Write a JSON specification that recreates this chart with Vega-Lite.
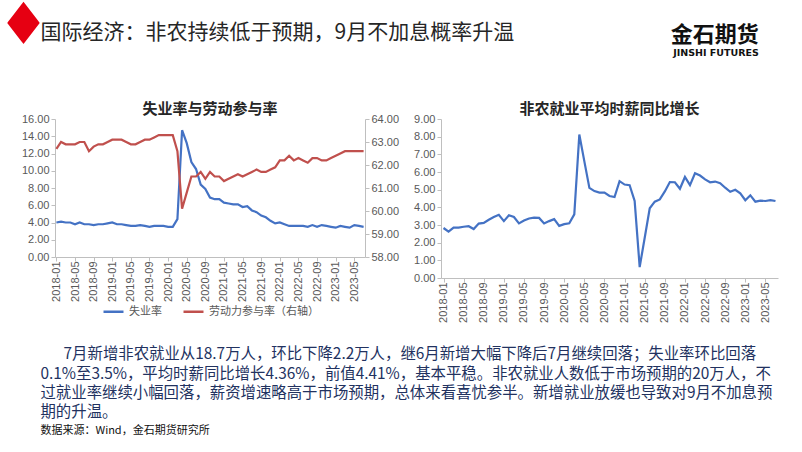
{
  "$schema": "https://vega.github.io/schema/vega-lite/v6.json",
  "background": "white",
  "padding": {"left": -3, "top": -2, "right": 0, "bottom": 0},
  "datasets": {
    "d": [
      {"m":"2018-01","u":4.0,"p":62.7,"w":2.83},{"m":"2018-02","u":4.1,"p":63.0,"w":2.62},{"m":"2018-03","u":4.0,"p":62.9,"w":2.85},{"m":"2018-04","u":4.0,"p":62.9,"w":2.85},
      {"m":"2018-05","u":3.8,"p":62.9,"w":2.9},{"m":"2018-06","u":4.0,"p":63.0,"w":2.93},{"m":"2018-07","u":3.8,"p":63.0,"w":2.77},{"m":"2018-08","u":3.8,"p":62.6,"w":3.08},
      {"m":"2018-09","u":3.7,"p":62.8,"w":3.12},{"m":"2018-10","u":3.8,"p":62.9,"w":3.3},{"m":"2018-11","u":3.8,"p":62.9,"w":3.45},{"m":"2018-12","u":3.9,"p":63.0,"w":3.58},
      {"m":"2019-01","u":4.0,"p":63.1,"w":3.22},{"m":"2019-02","u":3.8,"p":63.1,"w":3.55},{"m":"2019-03","u":3.8,"p":63.1,"w":3.45},{"m":"2019-04","u":3.7,"p":63.0,"w":3.09},
      {"m":"2019-05","u":3.6,"p":62.9,"w":3.25},{"m":"2019-06","u":3.6,"p":62.9,"w":3.37},{"m":"2019-07","u":3.7,"p":63.0,"w":3.42},{"m":"2019-08","u":3.6,"p":63.1,"w":3.4},
      {"m":"2019-09","u":3.5,"p":63.1,"w":3.09},{"m":"2019-10","u":3.6,"p":63.2,"w":3.22},{"m":"2019-11","u":3.6,"p":63.3,"w":3.33},{"m":"2019-12","u":3.6,"p":63.3,"w":2.95},
      {"m":"2020-01","u":3.5,"p":63.3,"w":3.05},{"m":"2020-02","u":3.5,"p":63.3,"w":3.1},{"m":"2020-03","u":4.4,"p":62.6,"w":3.6},{"m":"2020-04","u":14.7,"p":60.1,"w":8.12},
      {"m":"2020-05","u":13.2,"p":60.8,"w":6.6},{"m":"2020-06","u":11.0,"p":61.5,"w":5.1},{"m":"2020-07","u":10.2,"p":61.5,"w":4.92},{"m":"2020-08","u":8.4,"p":61.7,"w":4.83},
      {"m":"2020-09","u":7.9,"p":61.4,"w":4.83},{"m":"2020-10","u":6.9,"p":61.7,"w":4.64},{"m":"2020-11","u":6.7,"p":61.5,"w":4.58},{"m":"2020-12","u":6.7,"p":61.5,"w":5.48},
      {"m":"2021-01","u":6.3,"p":61.3,"w":5.29},{"m":"2021-02","u":6.2,"p":61.4,"w":5.25},{"m":"2021-03","u":6.1,"p":61.5,"w":4.36},{"m":"2021-04","u":6.1,"p":61.6,"w":0.62},
      {"m":"2021-05","u":5.8,"p":61.5,"w":2.28},{"m":"2021-06","u":5.9,"p":61.6,"w":3.95},{"m":"2021-07","u":5.4,"p":61.7,"w":4.32},{"m":"2021-08","u":5.2,"p":61.8,"w":4.45},
      {"m":"2021-09","u":4.8,"p":61.7,"w":4.9},{"m":"2021-10","u":4.6,"p":61.7,"w":5.43},{"m":"2021-11","u":4.2,"p":61.8,"w":5.42},{"m":"2021-12","u":3.9,"p":61.9,"w":5.05},
      {"m":"2022-01","u":4.0,"p":62.2,"w":5.72},{"m":"2022-02","u":3.8,"p":62.2,"w":5.26},{"m":"2022-03","u":3.6,"p":62.4,"w":5.93},{"m":"2022-04","u":3.6,"p":62.2,"w":5.8},
      {"m":"2022-05","u":3.6,"p":62.3,"w":5.58},{"m":"2022-06","u":3.6,"p":62.2,"w":5.42},{"m":"2022-07","u":3.5,"p":62.1,"w":5.46},{"m":"2022-08","u":3.7,"p":62.3,"w":5.37},
      {"m":"2022-09","u":3.5,"p":62.3,"w":5.11},{"m":"2022-10","u":3.7,"p":62.2,"w":4.88},{"m":"2022-11","u":3.6,"p":62.2,"w":4.99},{"m":"2022-12","u":3.5,"p":62.3,"w":4.79},
      {"m":"2023-01","u":3.4,"p":62.4,"w":4.4},{"m":"2023-02","u":3.6,"p":62.5,"w":4.68},{"m":"2023-03","u":3.5,"p":62.6,"w":4.32},{"m":"2023-04","u":3.4,"p":62.6,"w":4.38},
      {"m":"2023-05","u":3.7,"p":62.6,"w":4.36},{"m":"2023-06","u":3.6,"p":62.6,"w":4.41},{"m":"2023-07","u":3.5,"p":62.6,"w":4.36}
    ]
  },
  "title": {"text": "♦", "font": "DejaVu Sans", "fontSize": 58, "color": "#E60012", "anchor": "start", "dx": -24, "dy": 34, "offset": 0},
  "vconcat": [
    {
      "title": {"text": "金石期货", "subtitle": "JINSHI FUTURES", "anchor": "end", "dx": -21, "dy": 36, "offset": 0, "font": "Noto Sans CJK SC", "fontSize": 22, "fontWeight": "bold", "color": "#111111", "subtitleFont": "DejaVu Sans", "subtitleFontSize": 9.5, "subtitleFontWeight": "bold", "subtitleColor": "#111111", "subtitlePadding": 1},
      "vconcat": [
        {
          "title": {"text": "国际经济：非农持续低于预期，9月不加息概率升温", "anchor": "start", "dx": 19, "offset": 59, "font": "Noto Sans CJK SC", "fontSize": 21, "fontWeight": "normal", "color": "#262626"},
          "vconcat": [
            {
              "title": {
                "text": ["\u200b\u3000\u20027月新增非农就业从18.7万人，环比下降2.2万人，继6月新增大幅下降后7月继续回落；失业率环比回落", "0.1%至3.5%，平均时薪同比增长4.36%，前值4.41%，基本平稳。非农就业人数低于市场预期的20万人，不", "过就业率继续小幅回落，薪资增速略高于市场预期，总体来看喜忧参半。新增就业放缓也导致对9月不加息预", "期的升温。"],
                "subtitle": "数据来源：Wind，金石期货研究所",
                "orient": "bottom", "anchor": "start", "dx": 19, "offset": 25,
                "font": "Noto Sans CJK SC", "fontSize": 15.4, "fontWeight": "normal", "color": "#22325F", "lineHeight": 19.3,
                "subtitleFont": "Noto Sans CJK SC", "subtitleFontSize": 11, "subtitleColor": "#111111", "subtitlePadding": 4
              },
              "bounds": "flush",
              "spacing": 76,
              "resolve": {"scale": {"color": "independent"}, "legend": {"color": "independent"}},
              "hconcat": [
                {
                  "width": 310,
                  "height": 138,
                  "title": {"text": "失业率与劳动参与率", "font": "Noto Sans CJK SC", "fontSize": 15, "fontWeight": "bold", "color": "#262626", "anchor": "middle", "frame": "group", "offset": -4},
                  "data": {"name": "d"},
                  "encoding": {
                    "x": {"field": "m", "type": "ordinal", "sort": null, "scale": {"type": "point", "padding": 0.3}, "title": null,
                      "axis": {"values": ["2018-01","2018-05","2018-09","2019-01","2019-05","2019-09","2020-01","2020-05","2020-09","2021-01","2021-05","2021-09","2022-01","2022-05","2022-09","2023-01","2023-05"], "labelAngle": -90, "labelPadding": 0}}
                  },
                  "layer": [
                    {
                      "mark": {"type": "line", "strokeWidth": 2.2},
                      "encoding": {
                        "y": {"field": "u", "type": "quantitative", "scale": {"domain": [0, 16]}, "title": null, "axis": {"values": [0,2,4,6,8,10,12,14,16], "format": ".2f"}},
                        "color": {"datum": "失业率", "type": "nominal", "scale": {"domain": ["失业率", "劳动力参与率（右轴）"], "range": ["#4472C4", "#C0504D"]},
                          "legend": {"orient": "bottom", "direction": "horizontal", "title": null, "symbolType": "stroke", "symbolStrokeWidth": 2.5, "symbolSize": 400, "labelFont": "Noto Sans CJK SC", "labelFontSize": 11, "labelColor": "#595959", "columnPadding": 16, "offset": -2}}
                      }
                    },
                    {
                      "mark": {"type": "line", "strokeWidth": 2.2},
                      "encoding": {
                        "y": {"field": "p", "type": "quantitative", "scale": {"domain": [58, 64]}, "title": null, "axis": {"orient": "right", "values": [58,59,60,61,62,63,64], "format": ".2f"}},
                        "color": {"datum": "劳动力参与率（右轴）", "type": "nominal"}
                      }
                    }
                  ],
                  "resolve": {"scale": {"y": "independent"}}
                },
                {
                  "width": 337,
                  "height": 159,
                  "title": {"text": "非农就业平均时薪同比增长", "font": "Noto Sans CJK SC", "fontSize": 15, "fontWeight": "bold", "color": "#262626", "anchor": "middle", "frame": "group", "offset": -4},
                  "data": {"name": "d"},
                  "mark": {"type": "line", "strokeWidth": 2.2, "color": "#4472C4"},
                  "encoding": {
                    "x": {"field": "m", "type": "ordinal", "sort": null, "scale": {"type": "point", "padding": 0.5}, "title": null,
                      "axis": {"values": ["2018-01","2018-05","2018-09","2019-01","2019-05","2019-09","2020-01","2020-05","2020-09","2021-01","2021-05","2021-09","2022-01","2022-05","2022-09","2023-01","2023-05"], "labelAngle": -90, "labelPadding": 0}},
                    "y": {"field": "w", "type": "quantitative", "scale": {"domain": [0, 9]}, "title": null, "axis": {"values": [0,1,2,3,4,5,6,7,8,9], "format": ".2f"}}
                  }
                }
              ]
            }
          ]
        }
      ]
    }
  ],
  "config": {
    "view": {"stroke": null},
    "axis": {"grid": false, "domainColor": "#bfbfbf", "tickColor": "#bfbfbf", "tickSize": 4, "labelColor": "#595959", "labelFont": "Liberation Sans", "labelFontSize": 11, "labelPadding": 2},
    "legend": {"layout": {"bottom": {"anchor": "middle"}}}
  }
}
